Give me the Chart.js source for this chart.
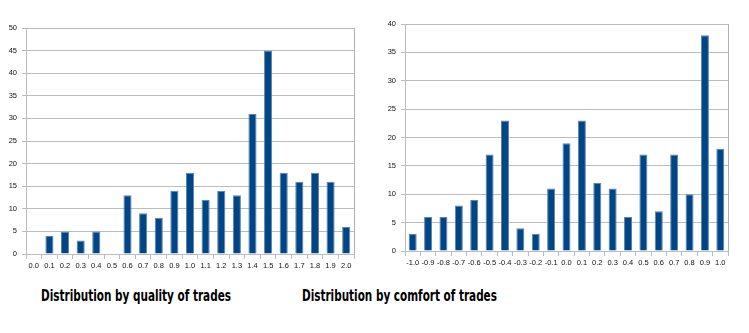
<!DOCTYPE html>
<html>
<head>
<meta charset="utf-8">
<script src="https://cdn.jsdelivr.net/npm/chart.js@4.4.0/dist/chart.umd.min.js"></script>
<style>
  body { margin: 0; background: #fff; width: 749px; height: 333px; position: relative; overflow: hidden; }
  canvas { position: absolute; top: 0; }
  #qualityChart { left: 0; }
  #comfortChart { left: 370px; }
  .caption { position: absolute; top: 288px; font: bold 15px "DejaVu Sans Condensed", "DejaVu Sans"; line-height: 17px;
             white-space: nowrap; transform-origin: 0 0; color: #000; }
</style>
</head>
<body>
<canvas id="qualityChart" width="370" height="280"></canvas>
<canvas id="comfortChart" width="379" height="280"></canvas>
<div class="caption" id="qualityCaption" data-w="190" style="left:41px">Distribution by quality of trades</div>
<div class="caption" id="comfortCaption" data-w="195" style="left:302px">Distribution by comfort of trades</div>
<script>
// quality of trades: buckets 0.0 .. 2.0
const qualityLabels = ['0.0','0.1','0.2','0.3','0.4','0.5','0.6','0.7','0.8','0.9','1.0',
                       '1.1','1.2','1.3','1.4','1.5','1.6','1.7','1.8','1.9','2.0'];
const qualityCounts = [0, 4, 5, 3, 5, 0, 13, 9, 8, 14, 18, 12, 14, 13, 31, 45, 18, 16, 18, 16, 6];

// comfort of trades: buckets -1.0 .. 1.0
const comfortLabels = ['-1.0','-0.9','-0.8','-0.7','-0.6','-0.5','-0.4','-0.3','-0.2','-0.1','0.0',
                       '0.1','0.2','0.3','0.4','0.5','0.6','0.7','0.8','0.9','1.0'];
const comfortCounts = [3, 6, 6, 8, 9, 17, 23, 4, 3, 11, 19, 23, 12, 11, 6, 17, 7, 17, 10, 38, 18];

const BAR_BLUE = '#004586';
const GRID = '#bcbcbc';

// right-hand edge of the plot frame
const frameRight = {
  id: 'frameRight',
  afterDraw(chart) {
    const { ctx, chartArea: a } = chart;
    const x = Math.round(a.right) + 0.5;
    ctx.save();
    ctx.strokeStyle = '#b0b0b0';
    ctx.lineWidth = 1;
    ctx.beginPath();
    ctx.moveTo(x, a.top);
    ctx.lineTo(x, a.bottom);
    ctx.stroke();
    ctx.restore();
  }
};

function histogram(id, labels, counts, yMax, box) {
  return new Chart(id, {
    type: 'bar',
    data: {
      labels: labels,
      datasets: [{
        data: counts,
        backgroundColor: BAR_BLUE,
        borderColor: '#5d84ad',
        borderWidth: 1,
        barPercentage: 0.52,
        categoryPercentage: 1
      }]
    },
    options: {
      responsive: false,
      animation: false,
      devicePixelRatio: 1,
      layout: { padding: { top: box.top, right: box.right, left: 0, bottom: 0 } },
      plugins: { legend: { display: false }, tooltip: { enabled: false } },
      scales: {
        x: {
          offset: true,
          grid: { offset: true, drawOnChartArea: false, drawTicks: true, tickLength: 5, color: GRID },
          border: { color: GRID, width: 1 },
          ticks: { color: '#111', font: { family: 'Liberation Sans', size: 7.5 }, padding: 2, maxRotation: 0, autoSkip: false },
          afterFit(scale) { scale.height = box.xh; }
        },
        y: {
          min: 0,
          max: yMax,
          ticks: { stepSize: 5, color: '#111', font: { family: 'Liberation Sans', size: 7.5 }, padding: box.pad },
          grid: { color: GRID, tickLength: 4, lineWidth: 1 },
          border: { color: GRID, width: 1 },
          afterFit(scale) { scale.width = box.yw; }
        }
      }
    },
    plugins: [frameRight]
  });
}

histogram('qualityChart', qualityLabels, qualityCounts, 50, { top: 28, right: 16, yw: 26, xh: 26, pad: 5 });
histogram('comfortChart', comfortLabels, comfortCounts, 40, { top: 24, right: 21, yw: 35, xh: 29, pad: 5 });

// squeeze captions to the narrow bold face used under each chart
document.querySelectorAll('.caption').forEach(el => {
  const w = el.getBoundingClientRect().width;
  el.style.transform = 'scaleX(' + (el.dataset.w / w).toFixed(3) + ')';
});
</script>
</body>
</html>
